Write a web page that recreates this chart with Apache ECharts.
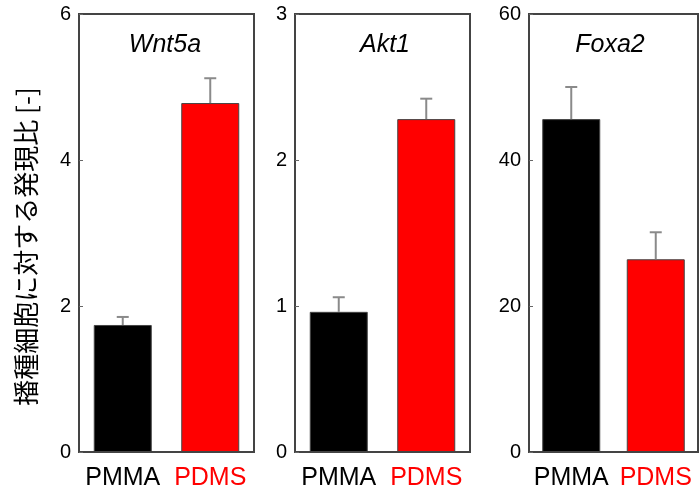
<html>
  <head>
    <meta charset="utf-8">
    <title>発現比</title>
    <script src="https://cdn.jsdelivr.net/npm/echarts@6/dist/echarts.min.js"></script>
    <style>
      html, body { margin: 0; padding: 0; background: #fff; }
      #chart { width: 700px; height: 493px; }
    </style>
  </head>
  <body>
    <div id="chart"></div>
    <script>
      // データ
      const groups = ['PMMA', 'PDMS']
      const genes = ['Wnt5a', 'Akt1', 'Foxa2']
      const wnt5aMean = [1.74, 4.78]
      const wnt5aErr = [0.11, 0.34]
      const akt1Mean = [0.96, 2.28]
      const akt1Err = [0.10, 0.14]
      const foxa2Mean = [45.6, 26.4]
      const foxa2Err = [4.4, 3.7]
      const yMax = [6, 3, 60]
      const yStep = [2, 1, 20]

      const means = [wnt5aMean, akt1Mean, foxa2Mean]
      const errs = [wnt5aErr, akt1Err, foxa2Err]
      const barColors = ['#000000', '#ff0000']

      // パネル配置
      const panels = [
        { left: 79, width: 175, titleX: 160 },
        { left: 295, width: 175, titleX: 380 },
        { left: 529, width: 169, titleX: 605 }
      ]

      const chart = echarts.init(document.getElementById('chart'))

      const grid = panels.map(p => ({
        left: p.left,
        width: p.width,
        top: 14,
        height: 438,
        show: true,
        borderColor: '#444',
        borderWidth: 2,
        backgroundColor: 'transparent'
      }))

      const xAxis = panels.map((p, i) => ({
        type: 'category',
        gridIndex: i,
        data: groups,
        axisLine: { lineStyle: { color: '#444', width: 2 } },
        axisTick: { inside: true, length: 3, lineStyle: { color: '#444' } },
        axisLabel: {
          interval: 0,
          fontFamily: 'Liberation Sans',
          fontSize: 25,
          margin: 14,
          color: (v, idx) => (v === 'PDMS' ? '#ff0000' : '#000000')
        }
      }))

      const yAxis = panels.map((p, i) => ({
        type: 'value',
        gridIndex: i,
        min: 0,
        max: yMax[i],
        interval: yStep[i],
        splitLine: { show: false },
        axisLine: { show: true, lineStyle: { color: '#444', width: 2 } },
        axisTick: { show: true, inside: true, length: 4, lineStyle: { color: '#666' } },
        axisLabel: {
          fontFamily: 'Liberation Sans',
          fontSize: 20,
          color: '#000',
          margin: 8
        }
      }))

      const series = []
      panels.forEach((p, i) => {
        // 棒グラフ
        series.push({
          type: 'bar',
          xAxisIndex: i,
          yAxisIndex: i,
          barWidth: 58,
          data: means[i].map((v, k) => ({
            value: v,
            itemStyle: { color: barColors[k], borderColor: '#444', borderWidth: 1 }
          })),
          animation: false
        })
        // エラーバー
        series.push({
          type: 'custom',
          xAxisIndex: i,
          yAxisIndex: i,
          data: means[i].map((v, k) => [k, v, v + errs[i][k]]),
          renderItem: (params, api) => {
            const base = api.coord([api.value(0), api.value(1)])
            const top = api.coord([api.value(0), api.value(2)])
            const style = { stroke: '#8a8a8a', lineWidth: 2 }
            return {
              type: 'group',
              children: [
                { type: 'line', shape: { x1: base[0], y1: base[1], x2: top[0], y2: top[1] }, style },
                { type: 'line', shape: { x1: top[0] - 6, y1: top[1], x2: top[0] + 6, y2: top[1] }, style }
              ]
            }
          },
          z: 5,
          animation: false
        })
      })

      const title = panels.map((p, i) => ({
        text: genes[i],
        left: p.titleX,
        top: 28,
        textAlign: 'center',
        textStyle: {
          fontFamily: 'Liberation Sans',
          fontStyle: 'italic',
          fontWeight: 'normal',
          fontSize: 25,
          color: '#000'
        }
      }))

      chart.setOption({
        backgroundColor: '#fff',
        title,
        grid,
        xAxis,
        yAxis,
        series,
        graphic: [
          {
            type: 'text',
            left: 13,
            top: 'middle',
            rotation: Math.PI / 2,
            style: {
              text: '播種細胞に対する発現比 [-]',
              font: '26px "Noto Sans CJK JP"',
              fill: '#000'
            }
          }
        ]
      })
    </script>
  </body>
</html>
